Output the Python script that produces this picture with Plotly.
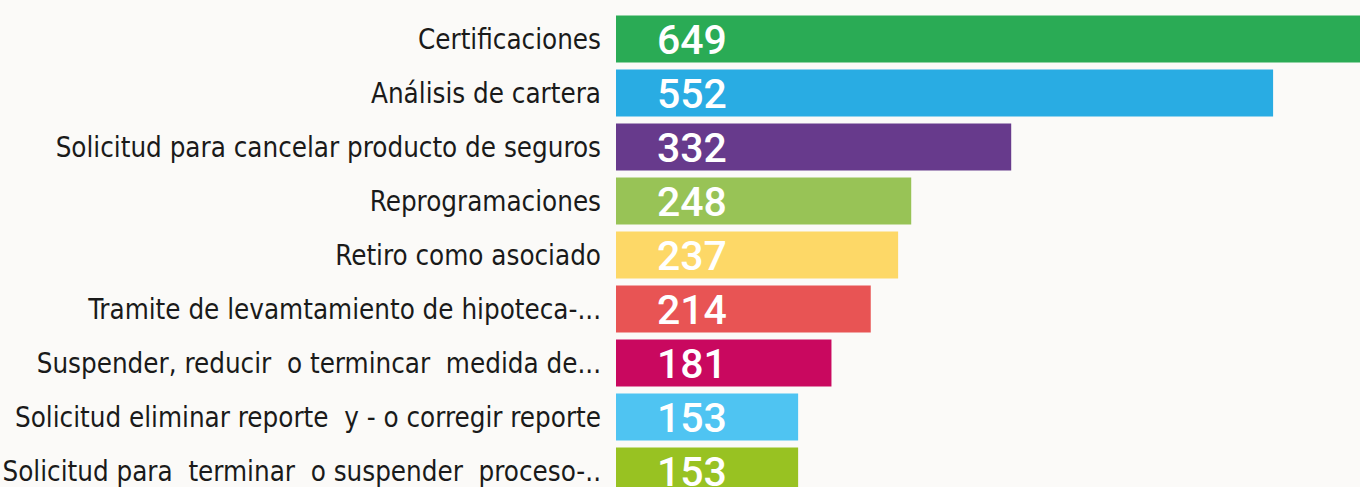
import plotly.graph_objects as go

categories = [
    "Certificaciones",
    "Análisis de cartera",
    "Solicitud para cancelar producto de seguros",
    "Reprogramaciones",
    "Retiro como asociado",
    "Tramite de levamtamiento de hipoteca-...",
    "Suspender, reducir  o termincar  medida de...",
    "Solicitud eliminar reporte  y - o corregir reporte",
    "Solicitud para  terminar  o suspender  proceso-..",
]
values = [649, 552, 332, 248, 237, 214, 181, 153, 153]
colors = ["#2AAB55", "#29ACE3", "#673A8C", "#98C356", "#FDD867",
          "#E85454", "#C9085F", "#4FC4F2", "#98C222"]

fig = go.Figure()
fig.add_trace(go.Bar(
    x=values, y=categories, orientation="h",
    marker=dict(color=colors, line=dict(width=0)),
    hoverinfo="skip",
))

for c, v in zip(categories, values):
    fig.add_annotation(
        x=0, y=c, text=str(v), showarrow=False,
        xanchor="left", yanchor="middle", xshift=39, yshift=-1,
        font=dict(family="Roboto", size=41, color="white", weight=500),
    )

fig.update_layout(
    width=1360, height=487,
    margin=dict(l=616, r=0, t=0, b=0),
    paper_bgcolor="#FBFAF8",
    plot_bgcolor="#FBFAF8",
    bargap=0.13,
    showlegend=False,
    xaxis=dict(range=[0, 625], visible=False, fixedrange=True),
    yaxis=dict(
        type="category",
        range=[8.296, -0.722],
        showgrid=False, zeroline=False, showline=False,
        ticks="", ticklabelstandoff=14,
        tickfont=dict(family="DejaVu Sans Condensed", size=27.5, color="#1A1A1A"),
        automargin=False,
    ),
)

fig.write_html(
    "out.html",
    config={"displayModeBar": False},
    post_script="document.body.style.margin='0px';document.body.style.background='#FBFAF8';",
)
